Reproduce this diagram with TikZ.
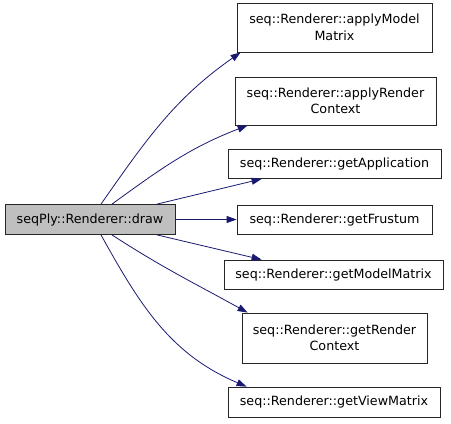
\documentclass[tikz,border=0pt]{standalone}
\usepackage{fontspec}
\setmainfont{DejaVu Sans}
\usetikzlibrary{arrows.meta}
\definecolor{edgeblue}{RGB}{25,25,112}
\definecolor{callgrey}{RGB}{191,191,191}
\begin{document}
\begin{tikzpicture}[x=1pt,y=-1pt,
  fn/.style={draw=black!85, line width=0.8pt, fill=white, inner sep=0pt, align=center,
    font=\fontsize{12.7}{16.5}\selectfont},
  call/.style={edgeblue, line width=0.8pt, -{Triangle[length=10pt,width=7pt]}}]
\useasboundingbox (0,0) rectangle (451,424);
\node[fn, fill=callgrey, minimum width=170pt, minimum height=30pt] (draw) at (90,219.5) {seqPly::Renderer::draw};
\node[fn, minimum width=195pt, minimum height=49pt] (amm) at (334.5,27.5) {seq::Renderer::applyModel\\Matrix};
\node[fn, minimum width=201pt, minimum height=48pt] (arc) at (335.5,101) {seq::Renderer::applyRender\\Context};
\node[fn, minimum width=213pt, minimum height=29pt] (gapp) at (334.5,164) {seq::Renderer::getApplication};
\node[fn, minimum width=195pt, minimum height=29pt] (gfr) at (334.5,219.5) {seq::Renderer::getFrustum};
\node[fn, minimum width=219pt, minimum height=29pt] (gmm) at (333.5,274.5) {seq::Renderer::getModelMatrix};
\node[fn, minimum width=185pt, minimum height=50pt] (grc) at (334.5,338) {seq::Renderer::getRender\\Context};
\node[fn, minimum width=212pt, minimum height=30pt] (gvm) at (334,402) {seq::Renderer::getViewMatrix};
% calls
\draw[call] ([xshift=11pt]draw.north) to[out=55,in=215] ([xshift=4pt]amm.south west);
\draw[call] ([xshift=22pt]draw.north) to[out=36,in=201] ([xshift=13pt]arc.south west);
\draw[call] ([xshift=67pt]draw.north) -- ([xshift=34pt]gapp.south west);
\draw[call] (draw.east) -- (gfr.west);
\draw[call] ([xshift=67pt]draw.south) -- ([xshift=38pt]gmm.north west);
\draw[call] ([xshift=22pt]draw.south) to[out=-33,in=151] ([xshift=6pt]grc.north west);
\draw[call] ([xshift=11pt]draw.south) to[out=-61,in=157] ([xshift=19pt]gvm.north west);
\end{tikzpicture}
\end{document}
